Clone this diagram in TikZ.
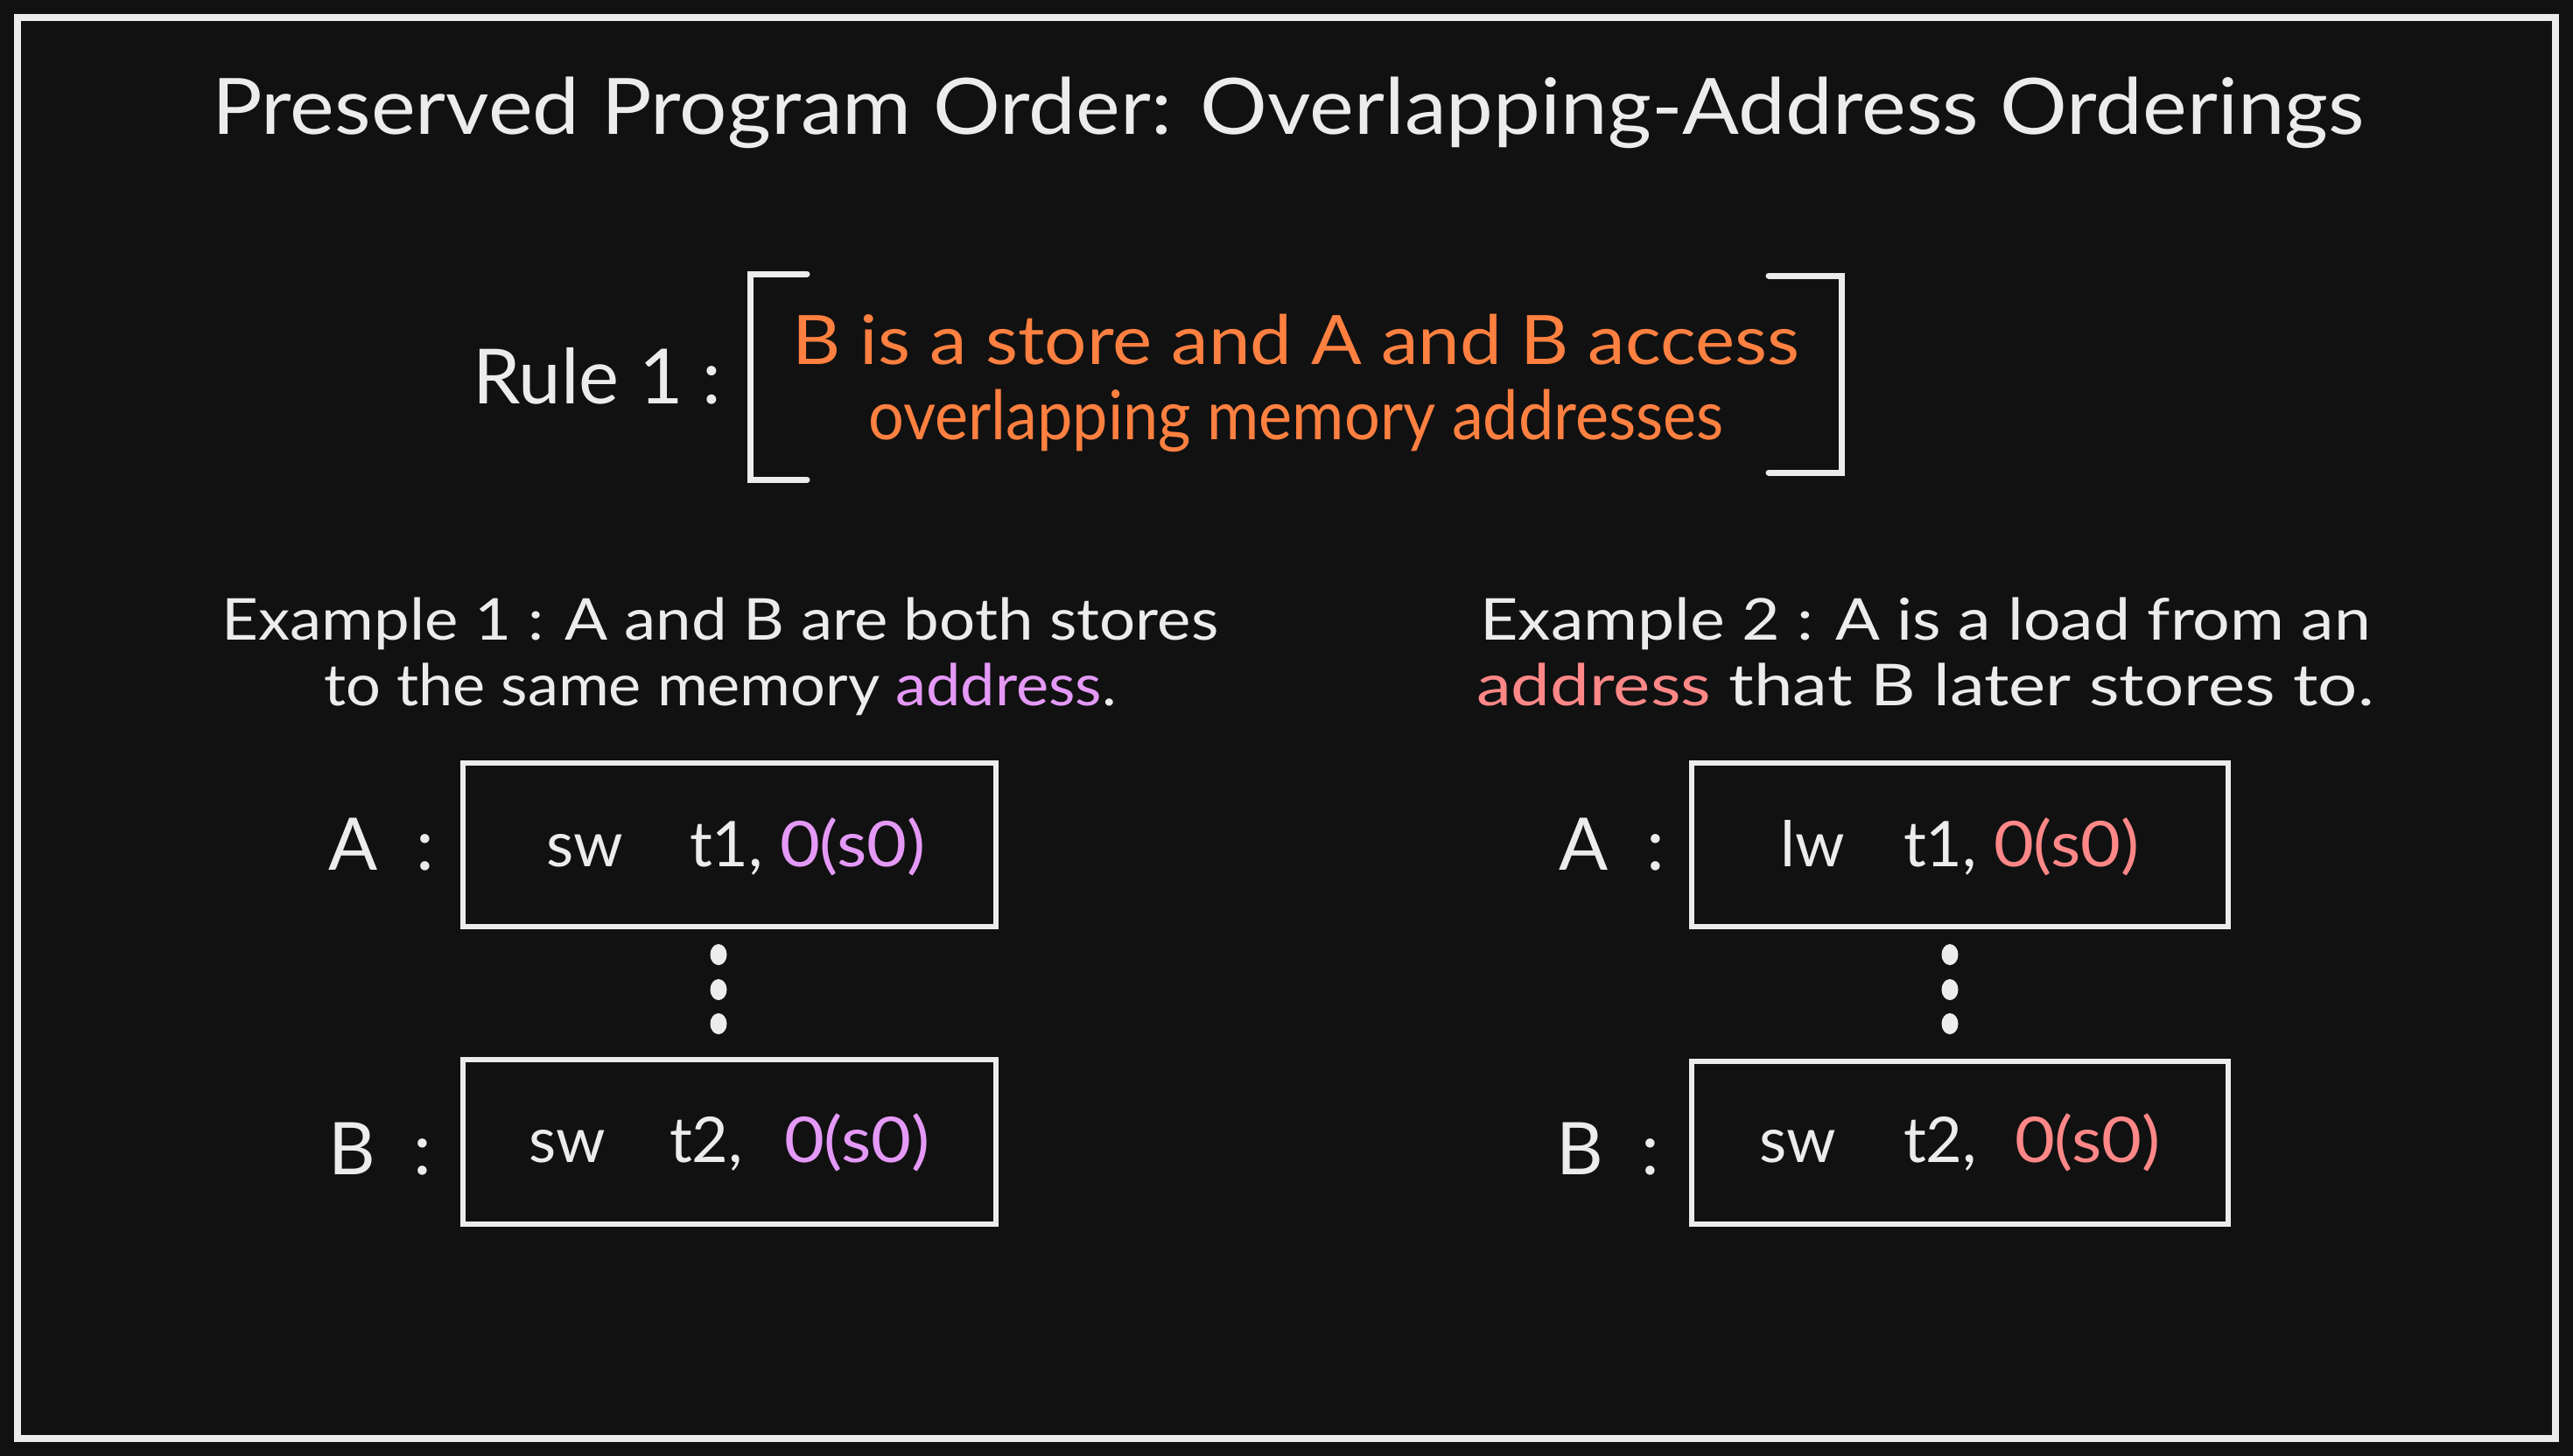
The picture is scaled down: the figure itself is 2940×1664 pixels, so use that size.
\documentclass[tikz,border=0pt]{standalone}
\usepackage{fontspec}
\usepackage{graphicx}
\setmainfont{Lato}
\usetikzlibrary{shapes.geometric}
\definecolor{bg}{HTML}{111111}
\definecolor{fg}{HTML}{ECECEC}
\definecolor{orng}{HTML}{FF8040}
\definecolor{vio}{HTML}{E599F7}
\definecolor{sal}{HTML}{FF8787}
\newcommand{\fsz}[1]{\fontsize{#1}{#1}\selectfont}
\newcommand{\sxw}[2]{\scalebox{#1}[1]{#2}}
\begin{document}
\begin{tikzpicture}[x=1pt,y=-1pt,
  txt/.style={inner sep=0pt, outer sep=0pt, text=fg, anchor=base},
  boxnode/.style={draw=fg, line width=6, rectangle, inner sep=0pt, minimum width=609, minimum height=187},
  dotnode/.style={fill=fg, draw=none, ellipse, inner sep=0pt, minimum width=19, minimum height=24},
  bracket/.style={draw=fg, line width=7, line cap=round, line join=miter}
]
\fill[bg] (0,0) rectangle (2940,1664);
\useasboundingbox (0,0) rectangle (2940,1664);
\draw[fg, line width=8] (20,20) rectangle (2920,1644);

% title
\node[txt, font=\fsz{89}] (title) at (1472,154) {\sxw{1.079}{Preserved Program Order: Overlapping-Address Orderings}};

% rule
\node[txt, anchor=base west, font=\fsz{87}] (rule) at (540,461) {Rule 1 :};
\draw[bracket] (922,313) -- (857,313) -- (857,548) -- (922,548);
\draw[bracket] (2021,315) -- (2104,315) -- (2104,540) -- (2021,540);
\node[txt, text=orng, font=\fsz{78}] (rl1) at (1481,416) {\sxw{1.095}{B is a store and A and B access}};
\node[txt, text=orng, font=\fsz{78}] (rl2) at (1481,502) {\sxw{0.924}{overlapping memory addresses}};

% example 1
\node[txt, font=\fsz{66}] (e1l1) at (823,731) {\sxw{1.10}{Example 1 : A and B are both stores}};
\node[txt, font=\fsz{66}] (e1l2) at (823,806) {\sxw{1.065}{to the same memory \textcolor{vio}{address}.}};

% example 2
\node[txt, font=\fsz{66}] (e2l1) at (2200,731) {\sxw{1.14}{Example 2 : A is a load from an}};
\node[txt, font=\fsz{66}] (e2l2) at (2200,806) {\sxw{1.21}{\textcolor{sal}{address} that B later stores to.}};

% boxes
\node[boxnode] (a1) at (833.5,965) {};
\node[boxnode, minimum height=188] (b1) at (833.5,1305) {};
\node[boxnode, minimum width=613] (a2) at (2239.5,965) {};
\node[boxnode, minimum width=613, minimum height=186] (b2) at (2239.5,1306) {};

% labels
\node[txt, anchor=base west, font=\fsz{83}] (la1) at (375,994) {A\hspace{44pt}:};
\node[txt, anchor=base west, font=\fsz{83}] (lb1) at (375,1342) {B\hspace{44pt}:};
\node[txt, anchor=base west, font=\fsz{83}] (la2) at (1781,994) {A\hspace{44pt}:};
\node[txt, anchor=base west, font=\fsz{83}] (lb2) at (1778,1342) {B\hspace{44pt}:};

% box contents
\node[txt, anchor=base west, font=\fsz{72}] (a1op) at (624,990) {sw};
\node[txt, anchor=base west, font=\fsz{72}] (a1rg) at (788,990) {t1,};
\node[txt, anchor=base west, font=\fsz{72}, text=vio] (a1ad) at (891,990) {\sxw{1.1}{0(s0)}};
\node[txt, anchor=base west, font=\fsz{72}] (b1op) at (604,1328) {sw};
\node[txt, anchor=base west, font=\fsz{72}] (b1rg) at (765,1328) {t2,};
\node[txt, anchor=base west, font=\fsz{72}, text=vio] (b1ad) at (896,1328) {\sxw{1.1}{0(s0)}};
\node[txt, anchor=base west, font=\fsz{72}] (a2op) at (2034,990) {lw};
\node[txt, anchor=base west, font=\fsz{72}] (a2rg) at (2175,990) {t1,};
\node[txt, anchor=base west, font=\fsz{72}, text=sal] (a2ad) at (2278,990) {\sxw{1.1}{0(s0)}};
\node[txt, anchor=base west, font=\fsz{72}] (b2op) at (2010,1328) {sw};
\node[txt, anchor=base west, font=\fsz{72}] (b2rg) at (2175,1328) {t2,};
\node[txt, anchor=base west, font=\fsz{72}, text=sal] (b2ad) at (2302,1328) {\sxw{1.1}{0(s0)}};

% dots
\node[dotnode] (d11) at (821,1091) {};
\node[dotnode] (d12) at (821,1131) {};
\node[dotnode] (d13) at (821,1170) {};
\node[dotnode] (d21) at (2228,1091) {};
\node[dotnode] (d22) at (2228,1131) {};
\node[dotnode] (d23) at (2228,1170) {};
\end{tikzpicture}
\end{document}
